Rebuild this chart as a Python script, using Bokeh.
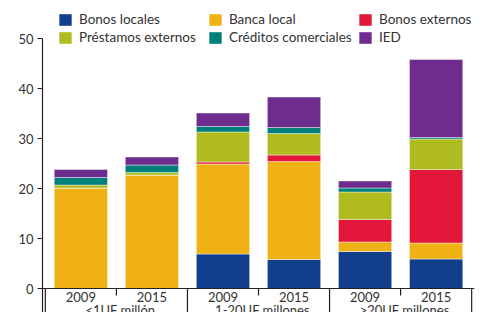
from bokeh.plotting import figure
from bokeh.models import FactorRange, Range1d, FixedTicker, Legend, LegendItem, ColumnDataSource
from bokeh.core.properties import value
from bokeh.embed import file_html
from bokeh.resources import INLINE

groups = ["<1UF millón", "1-20UF millones", ">20UF millones"]
years = ["2009", "2015"]
series = ["Bonos locales", "Banca local", "Bonos externos",
          "Préstamos externos", "Créditos comerciales", "IED"]
colors = ["#123f8c", "#f0b114", "#e3173a", "#b0bb1f", "#00807a", "#6e2c8e"]

bonos_locales = [0.0, 0.0, 6.9, 5.8, 7.4, 5.9]
banca_local = [20.1, 22.7, 18.0, 19.6, 1.9, 3.2]
bonos_externos = [0.0, 0.0, 0.4, 1.3, 4.5, 14.7]
prestamos_externos = [0.6, 0.5, 6.0, 4.3, 5.5, 6.1]
creditos_comerciales = [1.5, 1.5, 1.1, 1.2, 0.8, 0.3]
ied = [1.6, 1.6, 2.7, 6.1, 1.4, 15.6]
y_ticks = [0, 10, 20, 30, 40, 50]

factors = [(g, y) for g in groups for y in years]
keys = ["bl", "ba", "be", "pe", "cc", "ied"]
source = ColumnDataSource(data=dict(
    x=factors, bl=bonos_locales, ba=banca_local, be=bonos_externos,
    pe=prestamos_externos, cc=creditos_comerciales, ied=ied))

FONT = "Lato"
TXT = "#333333"

x_range = FactorRange(*factors, group_padding=0, factor_padding=0,
                      range_padding=0.04, range_padding_units="absolute")
p = figure(x_range=x_range, y_range=Range1d(-4.8, 57.6), width=476, height=312,
           output_backend="svg", toolbar_location=None,
           min_border_left=42, min_border_right=2, min_border_top=0, min_border_bottom=0)

renderers = p.vbar_stack(keys, x="x", width=0.75, color=colors, source=source,
                         line_color="white", line_width=0.6, line_alpha=0.7)

# axis decorations: group boundaries and year separators
n = len(years)
long_x = [i * n for i in range(len(groups) + 1)]
short_x = [i * n + k for i in range(len(groups)) for k in range(1, n)]
p.segment(x0=long_x, y0=[0] * len(long_x), x1=long_x, y1=[p.y_range.start] * len(long_x),
          line_color="#222222", line_width=1.2)
p.segment(x0=short_x, y0=[0] * len(short_x), x1=short_x, y1=[-1.4] * len(short_x),
          line_color="#222222", line_width=1.2)

# group labels (second axis level), drawn below the year labels
p.text(x=groups, y=[-2.7] * len(groups), text=groups, x_offset=4,
       text_align="center", text_baseline="top",
       text_font=value(FONT), text_font_size="13px", text_color=TXT)

p.xgrid.visible = False
p.ygrid.visible = False
p.outline_line_color = None

ya = p.yaxis[0]
ya.ticker = FixedTicker(ticks=y_ticks)
ya.bounds = (p.y_range.start, y_ticks[-1])
ya.axis_line_color = "#222222"
ya.axis_line_width = 1.2
ya.major_tick_line_color = "#222222"
ya.major_tick_out = 5
ya.major_tick_in = 0
ya.minor_tick_line_color = None
ya.major_label_text_font = FONT
ya.major_label_text_font_size = "13px"
ya.major_label_text_color = TXT
ya.major_label_standoff = 4

xa = p.xaxis[0]
xa.fixed_location = 0
xa.axis_line_color = "#222222"
xa.axis_line_width = 1.2
xa.major_tick_line_color = None
xa.major_tick_out = 0
xa.major_tick_in = 0
xa.minor_tick_line_color = None
xa.major_label_standoff = 3
xa.major_label_text_font = FONT
xa.major_label_text_font_size = "13px"
xa.major_label_text_color = TXT
xa.major_label_orientation = "horizontal"
xa.group_text_color = None
xa.separator_line_color = None

items = [LegendItem(label=s, renderers=[r]) for s, r in zip(series, renderers)]
legend = Legend(items=items, orientation="horizontal", ncols=3,
                location=(15, 267), padding=0, margin=0, spacing=2,
                border_line_color=None, background_fill_alpha=0,
                glyph_width=16, glyph_height=15, label_height=15,
                label_standoff=6, label_width=126,
                label_text_font=FONT, label_text_font_size="13.5px",
                label_text_color=TXT)
p.add_layout(legend)

open("out.html", "w").write(file_html(p, INLINE))
